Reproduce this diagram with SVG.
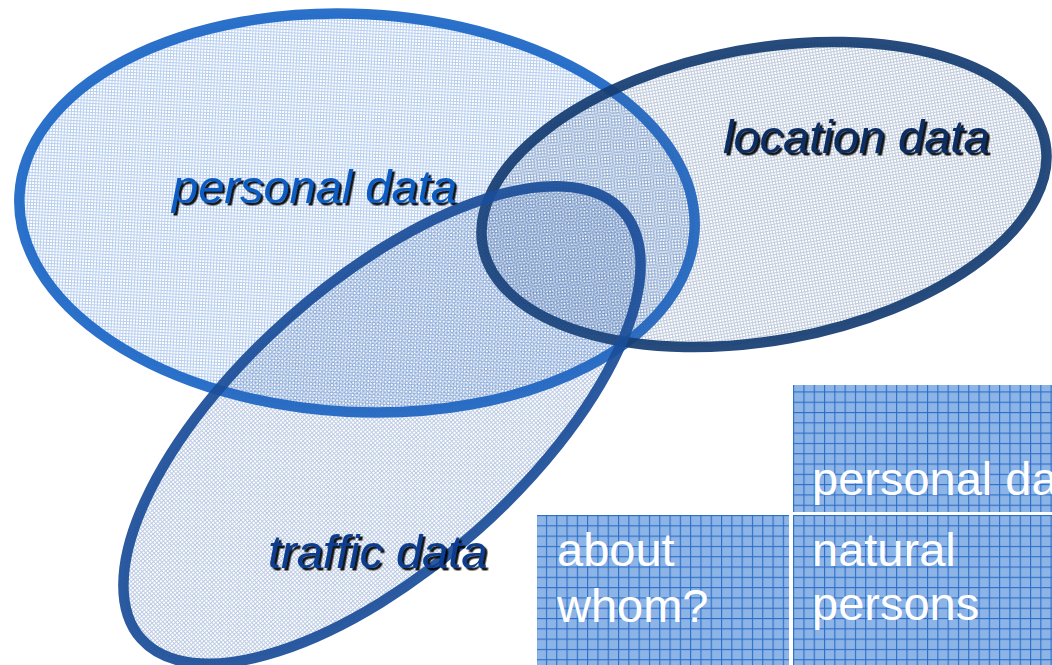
<svg xmlns="http://www.w3.org/2000/svg" width="1052" height="665" viewBox="0 0 1052 665">
<defs>
<pattern id="dotP" width="3" height="3" patternUnits="userSpaceOnUse">
<rect x="0" y="0" width="3" height="1" fill="#2f74cf" fill-opacity="0.34"/>
<rect x="0" y="1" width="1" height="2" fill="#2f74cf" fill-opacity="0.34"/>
</pattern>
<pattern id="dotL" width="3" height="3" patternUnits="userSpaceOnUse">
<rect x="0" y="0" width="3" height="1" fill="#3a5f93" fill-opacity="0.32"/>
<rect x="0" y="1" width="1" height="2" fill="#3a5f93" fill-opacity="0.32"/>
</pattern>
<pattern id="dotT" width="3" height="3" patternUnits="userSpaceOnUse">
<rect x="0" y="0" width="3" height="1" fill="#2e5fa8" fill-opacity="0.32"/>
<rect x="0" y="1" width="1" height="2" fill="#2e5fa8" fill-opacity="0.32"/>
</pattern>
<pattern id="grid" x="0" y="0" width="10.3" height="10.3" patternUnits="userSpaceOnUse">
<rect width="10.3" height="10.3" fill="#8db4e6"/>
<rect x="0" y="0" width="10.3" height="1.1" fill="#2a6ec8"/>
<rect x="0" y="0" width="1.1" height="10.3" fill="#2a6ec8"/>
</pattern>
<filter id="shadow" x="-5%" y="-20%" width="110%" height="140%">
<feDropShadow dx="2.5" dy="2.5" stdDeviation="0.6" flood-color="#000" flood-opacity="0.9"/>
</filter>
</defs>
<style>
.lbl{font-family:"Liberation Sans",Arial,sans-serif;font-style:italic;font-size:47px;filter:url(#shadow)}
.cell{fill:url(#grid)}
.ctxt{font-family:"Liberation Sans",Arial,sans-serif;font-size:47px;fill:#ffffff}
.ring{stroke-width:10.5;stroke-opacity:0.93}
</style>
<rect width="1052" height="665" fill="#ffffff"/>
<g id="personal">
<ellipse class="ring" cx="357" cy="213" rx="338" ry="199" transform="rotate(3 357 213)" fill="url(#dotP)" stroke="#1b66c6"/>
<text class="lbl" x="172" y="203" fill="#0a5bc2">personal data</text>
</g>
<g id="location">
<ellipse class="ring" cx="764" cy="194.5" rx="286" ry="146" transform="rotate(-10.4 764 194.5)" fill="url(#dotL)" stroke="#163d72"/>
<text class="lbl" x="723" y="153" fill="#0b2d63">location data</text>
</g>
<g id="traffic">
<ellipse class="ring" cx="382" cy="425" rx="322" ry="142" transform="rotate(-41.6 382 425)" fill="url(#dotT)" stroke="#1b4e99"/>
<text class="lbl" x="268" y="568" fill="#0b3d8e">traffic data</text>
</g>
<g id="table">
<g id="cell-header">
<rect class="cell" x="793" y="385" width="259" height="127"/>
<text class="ctxt" x="812" y="495">personal data</text>
</g>
<g id="cell-about">
<rect class="cell" x="537" y="515" width="252" height="150"/>
<text class="ctxt" x="557" y="566">about</text>
<text class="ctxt" x="557" y="622">whom?</text>
</g>
<g id="cell-natural">
<rect class="cell" x="793" y="515" width="259" height="150"/>
<text class="ctxt" x="812" y="566">natural</text>
<text class="ctxt" x="812" y="620">persons</text>
</g>
</g>
<g id="connectors"/>
</svg>
